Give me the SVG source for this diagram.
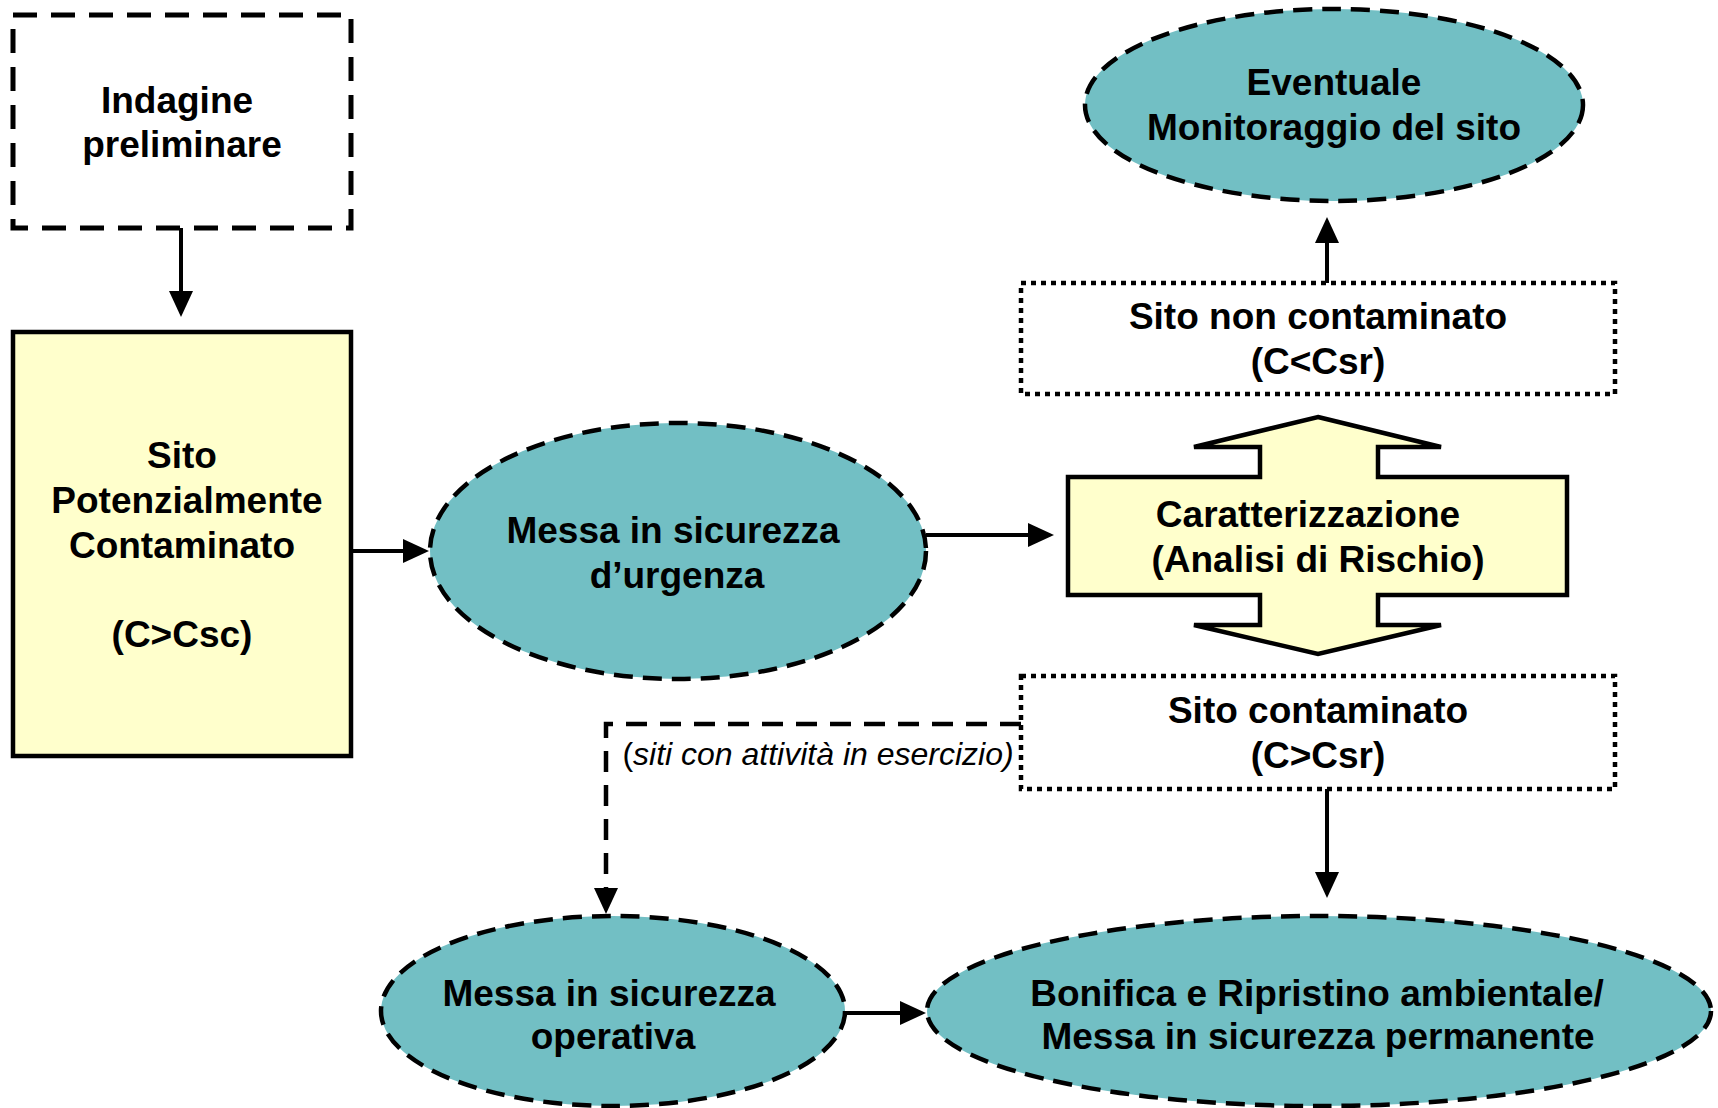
<svg xmlns="http://www.w3.org/2000/svg" width="1718" height="1108" viewBox="0 0 1718 1108">
  <style>
    .t { font-family: "Liberation Sans", Arial, sans-serif; font-weight: bold; font-size: 37px; fill: #000; text-anchor: middle; }
    .it { font-family: "Liberation Sans", Arial, sans-serif; font-style: italic; font-size: 32px; fill: #000; text-anchor: middle; }
    .ell { fill: #72BFC4; stroke: #000; stroke-width: 4.5; stroke-dasharray: 19 10; }
    .yel { fill: #FFFFCC; stroke: #000; stroke-width: 4.5; }
    .dashbox { fill: #fff; stroke: #000; stroke-width: 5; stroke-dasharray: 24 14; }
    .dotbox { fill: #fff; stroke: #000; stroke-width: 4.5; stroke-dasharray: 5 5; }
    .conn { fill: none; stroke: #000; stroke-width: 4; marker-end: url(#ah); }
    .dconn { fill: none; stroke: #000; stroke-width: 4.5; stroke-dasharray: 21 13; marker-end: url(#ah); }
  </style>
  <defs>
    <marker id="ah" markerUnits="userSpaceOnUse" markerWidth="26" markerHeight="24" refX="0" refY="12" orient="auto">
      <path d="M0,0 L26,12 L0,24 z" fill="#000"/>
    </marker>
  </defs>
  <rect width="1718" height="1108" fill="#fff"/>

  <g id="indagine">
    <rect class="dashbox" x="13" y="15" width="338" height="213"/>
    <text class="t" x="177" y="113">Indagine</text>
    <text class="t" x="182" y="157">preliminare</text>
  </g>

  <g id="sito-potenzialmente">
    <rect class="yel" x="13" y="332" width="338" height="424"/>
    <text class="t" x="182" y="468">Sito</text>
    <text class="t" x="187" y="513">Potenzialmente</text>
    <text class="t" x="182" y="558">Contaminato</text>
    <text class="t" x="182" y="647">(C&gt;Csc)</text>
  </g>

  <g id="messa-urgenza">
    <ellipse class="ell" cx="678" cy="551" rx="248" ry="128"/>
    <text class="t" x="673" y="543">Messa in sicurezza</text>
    <text class="t" x="677" y="588">d’urgenza</text>
  </g>

  <g id="caratterizzazione">
    <polygon class="yel" points="1318,417 1441,447 1378,447 1378,477 1567,477 1567,595 1378,595 1378,625 1441,625 1318,654 1194,625 1260,625 1260,595 1068,595 1068,477 1260,477 1260,447 1194,447"/>
    <text class="t" x="1308" y="527">Caratterizzazione</text>
    <text class="t" x="1318" y="572">(Analisi di Rischio)</text>
  </g>

  <g id="monitoraggio">
    <ellipse class="ell" cx="1334" cy="105" rx="249" ry="96"/>
    <text class="t" x="1334" y="95">Eventuale</text>
    <text class="t" x="1334" y="140">Monitoraggio del sito</text>
  </g>

  <g id="sito-non-contaminato">
    <rect class="dotbox" x="1021" y="283" width="594" height="111"/>
    <text class="t" x="1318" y="329">Sito non contaminato</text>
    <text class="t" x="1318" y="374">(C&lt;Csr)</text>
  </g>

  <g id="sito-contaminato">
    <rect class="dotbox" x="1021" y="676" width="594" height="113"/>
    <text class="t" x="1318" y="723">Sito contaminato</text>
    <text class="t" x="1318" y="768">(C&gt;Csr)</text>
  </g>

  <g id="messa-operativa">
    <ellipse class="ell" cx="613" cy="1011" rx="232" ry="95"/>
    <text class="t" x="609" y="1006">Messa in sicurezza</text>
    <text class="t" x="613" y="1049">operativa</text>
  </g>

  <g id="bonifica">
    <ellipse class="ell" cx="1319" cy="1011" rx="392" ry="95"/>
    <text class="t" x="1317" y="1006">Bonifica e Ripristino ambientale/</text>
    <text class="t" x="1318" y="1049">Messa in sicurezza permanente</text>
  </g>

  <g id="connectors">
    <path class="conn" d="M181,228 V291"/>
    <path class="conn" d="M351,551 H403"/>
    <path class="conn" d="M926,535 H1028"/>
    <path class="conn" d="M1327,283 V243"/>
    <path class="conn" d="M1327,789 V872"/>
    <path class="dconn" d="M1021,724 H606 V888"/>
    <path class="conn" d="M845,1013 H900"/>
    <text class="it" x="818" y="765"><tspan font-style="normal">(</tspan>siti con attività in esercizio)</text>
  </g>
</svg>
